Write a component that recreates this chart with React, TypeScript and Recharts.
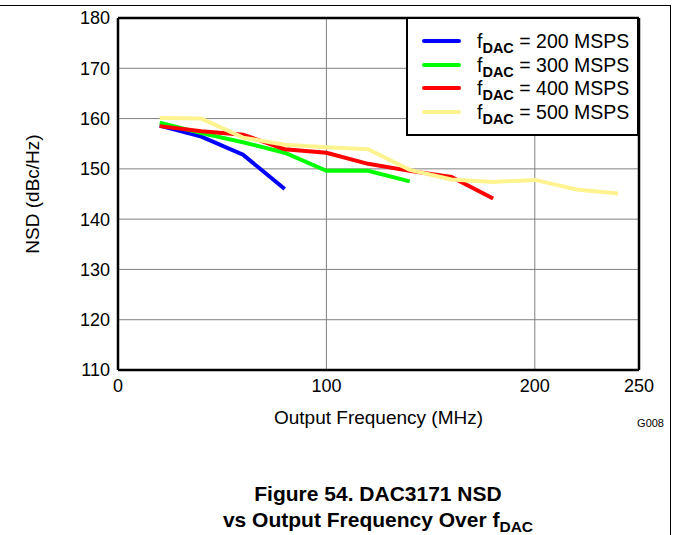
import React from 'react';
import {
  LineChart,
  Line,
  XAxis,
  YAxis,
  CartesianGrid,
  ReferenceLine,
  Legend,
  Label,
} from 'recharts';

const FONT = '"Liberation Sans", Arial, Helvetica, sans-serif';

// output frequency (MHz)
const FREQ = [20, 40, 60, 80, 100, 120, 140, 160, 180, 200, 220, 240];

// NSD (dBc/Hz) per fDAC
const NSD_200 = [158.6, 156.4, 152.8, 146.0];
const NSD_300 = [159.2, 157.1, 155.3, 153.2, 149.6, 149.6, 147.5];
const NSD_400 = [158.5, 157.5, 156.8, 153.9, 153.2, 151.0, 149.6, 148.4, 144.1];
const NSD_500 = [160.1, 160.0, 156.2, 154.8, 154.3, 153.9, 149.8, 147.9, 147.4, 147.8, 145.9, 145.1];

const X_TICKS = [0, 100, 200, 250];
const Y_TICKS = [110, 120, 130, 140, 150, 160, 170, 180];

const SERIES = [
  { key: 's200', name: '200 MSPS', color: '#0000ff' },
  { key: 's300', name: '300 MSPS', color: '#00ff00' },
  { key: 's400', name: '400 MSPS', color: '#ff0000' },
  { key: 's500', name: '500 MSPS', color: '#fff38f' },
];

const data = FREQ.map((f, i) => ({
  f,
  s200: NSD_200[i],
  s300: NSD_300[i],
  s400: NSD_400[i],
  s500: NSD_500[i],
}));

function LegendBox({ payload }: any) {
  const items = (payload || []).filter((p: any) => p.type !== 'none');
  return (
    <div
      style={{
        width: 229,
        height: 115,
        border: '2px solid #000',
        background: '#fff',
        display: 'flex',
        flexDirection: 'column',
        justifyContent: 'center',
        fontFamily: FONT,
      }}
    >
      {items.map((p: any) => (
        <div
          key={p.value}
          style={{ display: 'flex', alignItems: 'center', height: 23.4 }}
        >
          <div
            style={{
              marginLeft: 14,
              width: 39,
              height: 4,
              borderRadius: 2,
              background: p.color,
            }}
          />
          <span
            style={{
              marginLeft: 16,
              fontSize: 19.5,
              lineHeight: '22px',
              color: '#000',
              whiteSpace: 'nowrap',
            }}
          >
            f
            <sub style={{ fontSize: 14.5, fontWeight: 'bold', verticalAlign: -5, lineHeight: 0 }}>
              DAC
            </sub>
            {' = '}
            {p.value}
          </span>
        </div>
      ))}
    </div>
  );
}

export default function App() {
  return (
    <div
      style={{
        position: 'absolute',
        left: 0,
        top: 0,
        width: 673,
        height: 535,
        background: '#fff',
        fontFamily: FONT,
      }}
    >
      {/* page frame */}
      <div style={{ position: 'absolute', left: 0, top: 5, width: 670, height: 1, background: '#000' }} />
      <div style={{ position: 'absolute', left: 670, top: 5, width: 1, height: 530, background: '#000' }} />

      <LineChart
        width={673}
        height={535}
        data={data}
        margin={{ top: 18, right: 34, left: 78, bottom: 135 }}
      >
        <CartesianGrid stroke="#808080" strokeWidth={1} />
        <XAxis
          type="number"
          dataKey="f"
          domain={[0, 250]}
          ticks={X_TICKS}
          axisLine={false}
          tickLine={false}
          tickSize={0}
          tickMargin={9}
          height={30}
          tick={{ fill: '#000', fontSize: 18, fontFamily: FONT }}
        >
          <Label
            value="Output Frequency (MHz)"
            position="center"
            dy={32}
            style={{ fill: '#000', fontSize: 19, fontFamily: FONT }}
          />
        </XAxis>
        <YAxis
          type="number"
          domain={[110, 180]}
          ticks={Y_TICKS}
          axisLine={false}
          tickLine={false}
          tickSize={0}
          tickMargin={8}
          width={40}
          tick={{ fill: '#000', fontSize: 18, fontFamily: FONT }}
        >
          <Label
            value="NSD (dBc/Hz)"
            position="center"
            angle={-90}
            dx={-66}
            style={{ fill: '#000', fontSize: 19, fontFamily: FONT, textAnchor: 'middle' }}
          />
        </YAxis>
        <Legend
          layout="vertical"
          align="center"
          verticalAlign="middle"
          wrapperStyle={{ top: 17, left: 406, width: 233 }}
          content={<LegendBox />}
        />
        {SERIES.map((s) => (
          <Line
            key={s.key}
            type="linear"
            dataKey={s.key}
            name={s.name}
            stroke={s.color}
            strokeWidth={4}
            dot={false}
            activeDot={false}
            isAnimationActive={false}
          />
        ))}
        <ReferenceLine x={0} stroke="#000" strokeWidth={2.5} />
        <ReferenceLine x={250} stroke="#000" strokeWidth={2.5} />
        <ReferenceLine y={110} stroke="#000" strokeWidth={2.5} />
        <ReferenceLine y={180} stroke="#000" strokeWidth={2.5} />
      </LineChart>

      <div
        style={{
          position: 'absolute',
          left: 624,
          top: 417,
          fontSize: 11,
          color: '#000',
          width: 40,
          textAlign: 'right',
        }}
      >
        G008
      </div>

      <div
        style={{
          position: 'absolute',
          left: 128,
          width: 500,
          top: 481,
          textAlign: 'center',
          fontWeight: 'bold',
          fontSize: 21,
          lineHeight: '26px',
          color: '#000',
        }}
      >
        <div>Figure 54. DAC3171 NSD</div>
        <div>
          vs Output Frequency Over f
          <sub style={{ fontSize: 15.5, verticalAlign: -5, lineHeight: 0 }}>DAC</sub>
        </div>
      </div>
    </div>
  );
}
